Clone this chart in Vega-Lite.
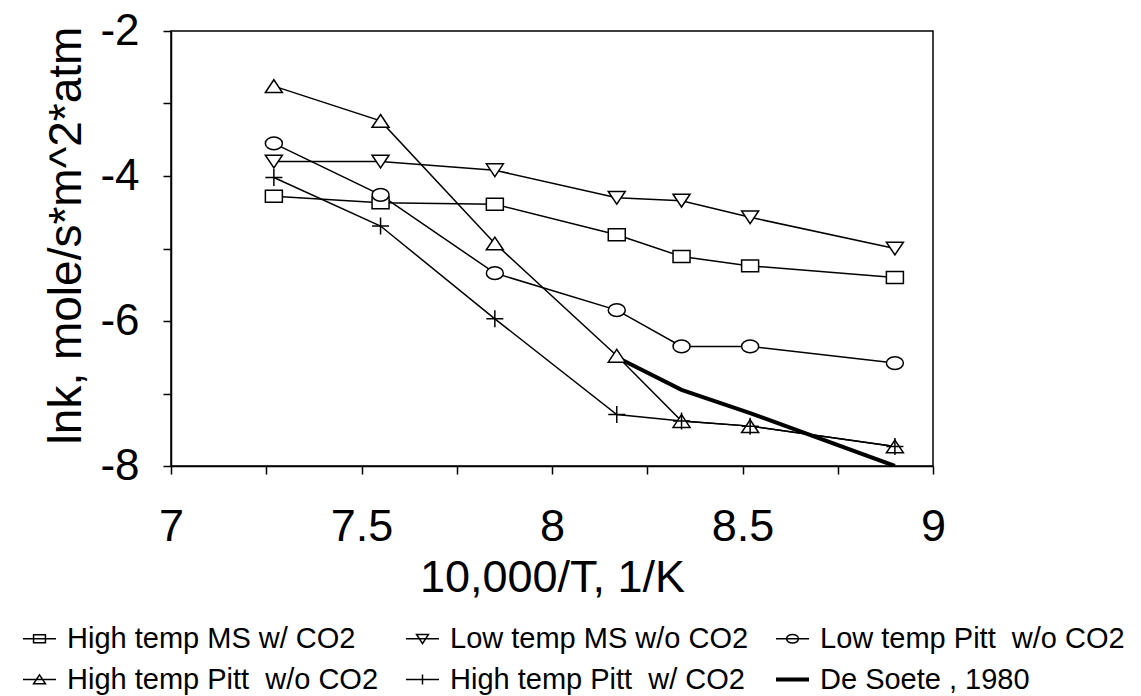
{
  "$schema": "https://vega.github.io/schema/vega-lite/v6.json",
  "width": 762,
  "height": 435,
  "autosize": {"type": "none"},
  "padding": {"left": 171, "top": 31, "right": 208, "bottom": 230},
  "background": "white",
  "config": {"view": {"stroke": "black", "strokeWidth": 1.5}, "font": "Liberation Sans"},
  "data": {"values": [
    {"series": "High temp MS w/ CO2", "x": 7.27, "y": -4.28},
    {"series": "High temp MS w/ CO2", "x": 7.55, "y": -4.37},
    {"series": "High temp MS w/ CO2", "x": 7.85, "y": -4.39},
    {"series": "High temp MS w/ CO2", "x": 8.17, "y": -4.81},
    {"series": "High temp MS w/ CO2", "x": 8.34, "y": -5.11},
    {"series": "High temp MS w/ CO2", "x": 8.52, "y": -5.24},
    {"series": "High temp MS w/ CO2", "x": 8.9, "y": -5.40},
    {"series": "Low temp MS w/o CO2", "x": 7.27, "y": -3.80},
    {"series": "Low temp MS w/o CO2", "x": 7.55, "y": -3.80},
    {"series": "Low temp MS w/o CO2", "x": 7.85, "y": -3.92},
    {"series": "Low temp MS w/o CO2", "x": 8.17, "y": -4.30},
    {"series": "Low temp MS w/o CO2", "x": 8.34, "y": -4.34},
    {"series": "Low temp MS w/o CO2", "x": 8.52, "y": -4.57},
    {"series": "Low temp MS w/o CO2", "x": 8.9, "y": -5.00},
    {"series": "Low temp Pitt  w/o CO2", "x": 7.27, "y": -3.55},
    {"series": "Low temp Pitt  w/o CO2", "x": 7.55, "y": -4.26},
    {"series": "Low temp Pitt  w/o CO2", "x": 7.85, "y": -5.34},
    {"series": "Low temp Pitt  w/o CO2", "x": 8.17, "y": -5.85},
    {"series": "Low temp Pitt  w/o CO2", "x": 8.34, "y": -6.35},
    {"series": "Low temp Pitt  w/o CO2", "x": 8.52, "y": -6.35},
    {"series": "Low temp Pitt  w/o CO2", "x": 8.9, "y": -6.58},
    {"series": "High temp Pitt  w/o CO2", "x": 7.27, "y": -2.76},
    {"series": "High temp Pitt  w/o CO2", "x": 7.55, "y": -3.24},
    {"series": "High temp Pitt  w/o CO2", "x": 7.85, "y": -4.93},
    {"series": "High temp Pitt  w/o CO2", "x": 8.17, "y": -6.48},
    {"series": "High temp Pitt  w/o CO2", "x": 8.34, "y": -7.38},
    {"series": "High temp Pitt  w/o CO2", "x": 8.52, "y": -7.45},
    {"series": "High temp Pitt  w/o CO2", "x": 8.9, "y": -7.73},
    {"series": "High temp Pitt  w/ CO2", "x": 7.27, "y": -4.02},
    {"series": "High temp Pitt  w/ CO2", "x": 7.55, "y": -4.69},
    {"series": "High temp Pitt  w/ CO2", "x": 7.85, "y": -5.97},
    {"series": "High temp Pitt  w/ CO2", "x": 8.17, "y": -7.29},
    {"series": "High temp Pitt  w/ CO2", "x": 8.34, "y": -7.38},
    {"series": "High temp Pitt  w/ CO2", "x": 8.52, "y": -7.45},
    {"series": "High temp Pitt  w/ CO2", "x": 8.9, "y": -7.73},
    {"series": "De Soete , 1980", "x": 8.17, "y": -6.50},
    {"series": "De Soete , 1980", "x": 8.34, "y": -6.95},
    {"series": "De Soete , 1980", "x": 8.52, "y": -7.27},
    {"series": "De Soete , 1980", "x": 8.9, "y": -8.0}
  ]},
  "resolve": {"scale": {"shape": "independent"}, "legend": {"shape": "independent"}},
  "layer": [
    {
      "mark": {"type": "line", "color": "black", "clip": true},
      "encoding": {
        "x": {"field": "x", "type": "quantitative",
          "scale": {"domain": [7, 9], "nice": false, "zero": false},
          "axis": {"title": "10,000/T, 1/K", "values": [7, 7.25, 7.5, 7.75, 8, 8.25, 8.5, 8.75, 9],
            "labelExpr": "datum.value % 0.5 === 0 ? '' + datum.value : ''",
            "grid": false, "domainColor": "black", "domainWidth": 1.5, "tickColor": "black", "tickWidth": 1.5, "tickSize": 8,
            "labelFont": "Liberation Sans", "labelFontSize": 45, "labelColor": "black", "labelPadding": 30,
            "labelFlush": false, "labelOverlap": false,
            "titleFont": "Liberation Sans", "titleFontSize": 45, "titleFontWeight": "normal", "titleColor": "black",
            "titleBaseline": "alphabetic", "titleY": 125}},
        "y": {"field": "y", "type": "quantitative",
          "scale": {"domain": [-8, -2], "nice": false, "zero": false},
          "axis": {"title": "lnk, mole/s*m^2*atm", "values": [-8, -7, -6, -5, -4, -3, -2],
            "labelExpr": "datum.value % 2 === 0 ? '' + datum.value : ''",
            "grid": false, "domainColor": "black", "domainWidth": 1.5, "tickColor": "black", "tickWidth": 1.5, "tickSize": 8,
            "labelFont": "Liberation Sans", "labelFontSize": 44, "labelColor": "black", "labelPadding": 24,
            "labelFlush": false, "labelOverlap": false,
            "titleFont": "Liberation Sans", "titleFontSize": 46, "titleFontWeight": "normal", "titleColor": "black",
            "titleX": -81, "titleY": 204}},
        "detail": {"field": "series"},
        "strokeWidth": {"condition": {"test": "datum.series === 'De Soete , 1980'", "value": 4}, "value": 1.5}
      }
    },
    {
      "transform": [{"filter": "datum.series !== 'De Soete , 1980'"}],
      "mark": {"type": "point", "filled": true, "color": "white", "fill": "white", "stroke": "black", "strokeWidth": 1.5, "size": 289, "opacity": 1},
      "encoding": {
        "x": {"field": "x", "type": "quantitative"},
        "y": {"field": "y", "type": "quantitative"},
        "shape": {"field": "series", "type": "nominal", "legend": null,
          "scale": {
            "domain": ["High temp MS w/ CO2", "Low temp MS w/o CO2", "Low temp Pitt  w/o CO2", "High temp Pitt  w/o CO2", "High temp Pitt  w/ CO2", "De Soete , 1980"],
            "range": ["M-1,-0.7H1V0.7H-1Z", "M-1,-0.75H1L0,0.75Z", "M-1,0A1,0.75 0 1,0 1,0A1,0.75 0 1,0 -1,0Z", "M0,-0.75L1,0.75H-1Z", "M-1,0H1M0,-1V1", "M0,0"]
          }
        }
      }
    },
    {
      "mark": {"type": "point", "filled": true, "color": "white", "fill": "white", "stroke": "black", "strokeWidth": 1.2, "size": 1, "opacity": 0},
      "encoding": {
        "x": {"field": "x", "type": "quantitative"},
        "y": {"field": "y", "type": "quantitative"},
        "shape": {"field": "series", "type": "nominal",
          "scale": {
            "domain": ["High temp MS w/ CO2", "Low temp MS w/o CO2", "Low temp Pitt  w/o CO2", "High temp Pitt  w/o CO2", "High temp Pitt  w/ CO2", "De Soete , 1980"],
            "range": [
              "M-1,0H1M-0.36,-0.24H0.36V0.24H-0.36Z",
              "M-1,0H1M-0.36,-0.26H0.36L0,0.3Z",
              "M-1,0H1M-0.36,0A0.36,0.26 0 1,0 0.36,0A0.36,0.26 0 1,0 -0.36,0Z",
              "M-1,0H1M0,-0.28L0.36,0.26H-0.36Z",
              "M-1,0H1M0,-0.3V0.3",
              "M-1,-0.07H1M-1,0H1M-1,0.07H1"
            ]
          },
          "legend": {
            "title": null, "orient": "none", "legendX": -149, "legendY": 590, "direction": "horizontal", "columns": 3,
            "symbolSize": 1089, "symbolOpacity": 1,
            "labelFont": "Liberation Sans", "labelFontSize": 29, "labelColor": "black", "labelOffset": 10, "labelLimit": 500,
            "labelExpr": "replace(datum.label, 'Pitt  w', 'Pitt\u00a0 w')",
            "columnPadding": 24, "rowPadding": 8, "padding": 0,
            "encode": {"symbols": {"update": {
              "fill": {"value": "white"},
              "stroke": {"value": "black"},
              "opacity": {"value": 1},
              "strokeWidth": {"value": 1.3}
            }}}
          }
        }
      }
    }
  ]
}
